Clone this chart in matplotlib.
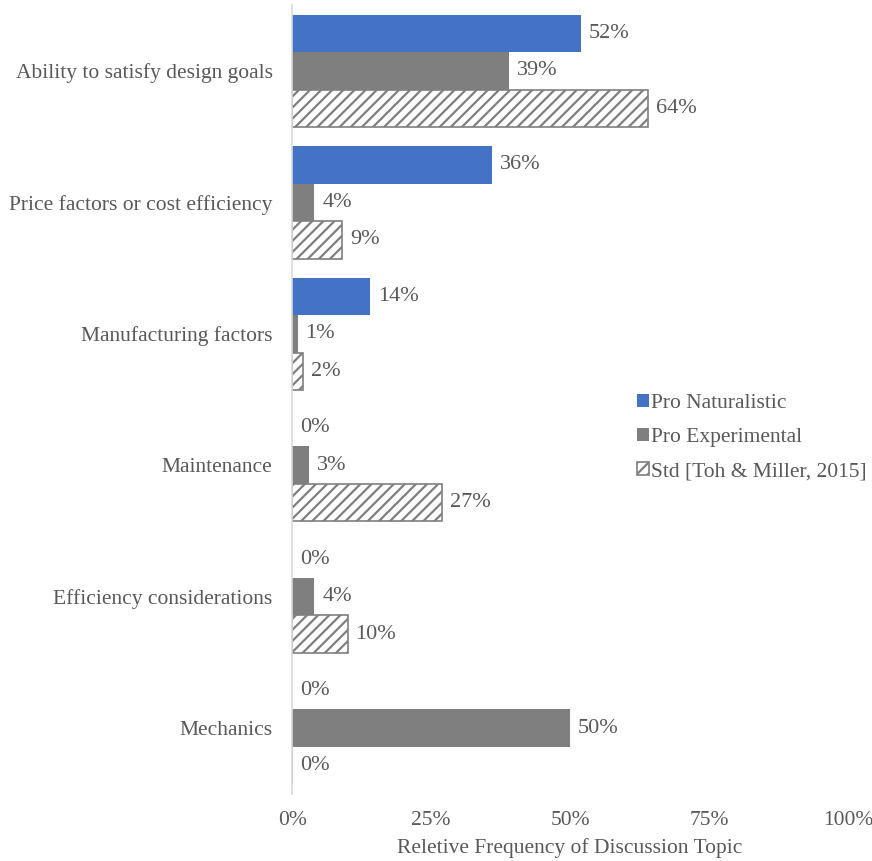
import numpy as np
import matplotlib.pyplot as plt

# discussion topics, top to bottom
topics = ['Ability to satisfy design goals', 'Price factors or cost efficiency',
          'Manufacturing factors', 'Maintenance', 'Efficiency considerations',
          'Mechanics']
naturalistic = [52, 36, 14, 0, 0, 0]
experimental = [39, 4, 1, 3, 4, 50]
standard = [64, 9, 2, 27, 10, 0]
series_names = ['Pro Naturalistic', 'Pro Experimental', 'Std [Toh & Miller, 2015]']
xticks = [0, 25, 50, 75, 100]

plt.rcParams['font.family'] = ['Liberation Serif', 'DejaVu Serif']
plt.rcParams['hatch.color'] = '#7f7f7f'
plt.rcParams['hatch.linewidth'] = 1.6
txt = '#595959'
fs = 15.5

fig = plt.figure(figsize=(8.72, 8.61), dpi=100)
ax = fig.add_axes([0.335, 0.078, 0.6375, 0.916])

y = np.arange(len(topics))
h = 0.285
b1 = ax.barh(y - h, naturalistic, h, color='#4472c4', label=series_names[0])
b2 = ax.barh(y, experimental, h, color='#7f7f7f', label=series_names[1])
b3 = ax.barh(y + h, standard, h, facecolor='white', edgecolor='#7f7f7f',
             hatch='///', linewidth=1.2, label=series_names[2])

for bars, vals in [(b1, naturalistic), (b2, experimental), (b3, standard)]:
    for bar, v in zip(bars, vals):
        ax.text(v + 1.4, bar.get_y() + bar.get_height() / 2, f'{v:.0f}%',
                va='center', ha='left', fontsize=16, color=txt)

ax.set_ylim(len(topics) - 0.5, -0.5)
ax.set_xlim(0, 100)
ax.set_yticks(y)
ax.set_yticklabels(topics, fontsize=fs, color=txt)
ax.set_xticks(xticks)
ax.set_xticklabels([f'{t}%' for t in xticks], fontsize=fs, color=txt)
ax.tick_params(length=0)
ax.tick_params(axis='y', pad=14)
ax.tick_params(axis='x', pad=12)
ax.set_xlabel('Reletive Frequency of Discussion Topic', fontsize=fs, color=txt, labelpad=6)

for s in ['top', 'right', 'bottom']:
    ax.spines[s].set_visible(False)
ax.spines['left'].set_color('#d9d9d9')
ax.spines['left'].set_linewidth(1.2)

leg = ax.legend(loc='center left', bbox_to_anchor=(0.585, 0.452), frameon=False,
                fontsize=fs, handlelength=0.55, handleheight=0.55, handletextpad=0.1,
                labelspacing=0.7)
for t in leg.get_texts():
    t.set_color(txt)

fig.savefig('out.png', dpi=100)
